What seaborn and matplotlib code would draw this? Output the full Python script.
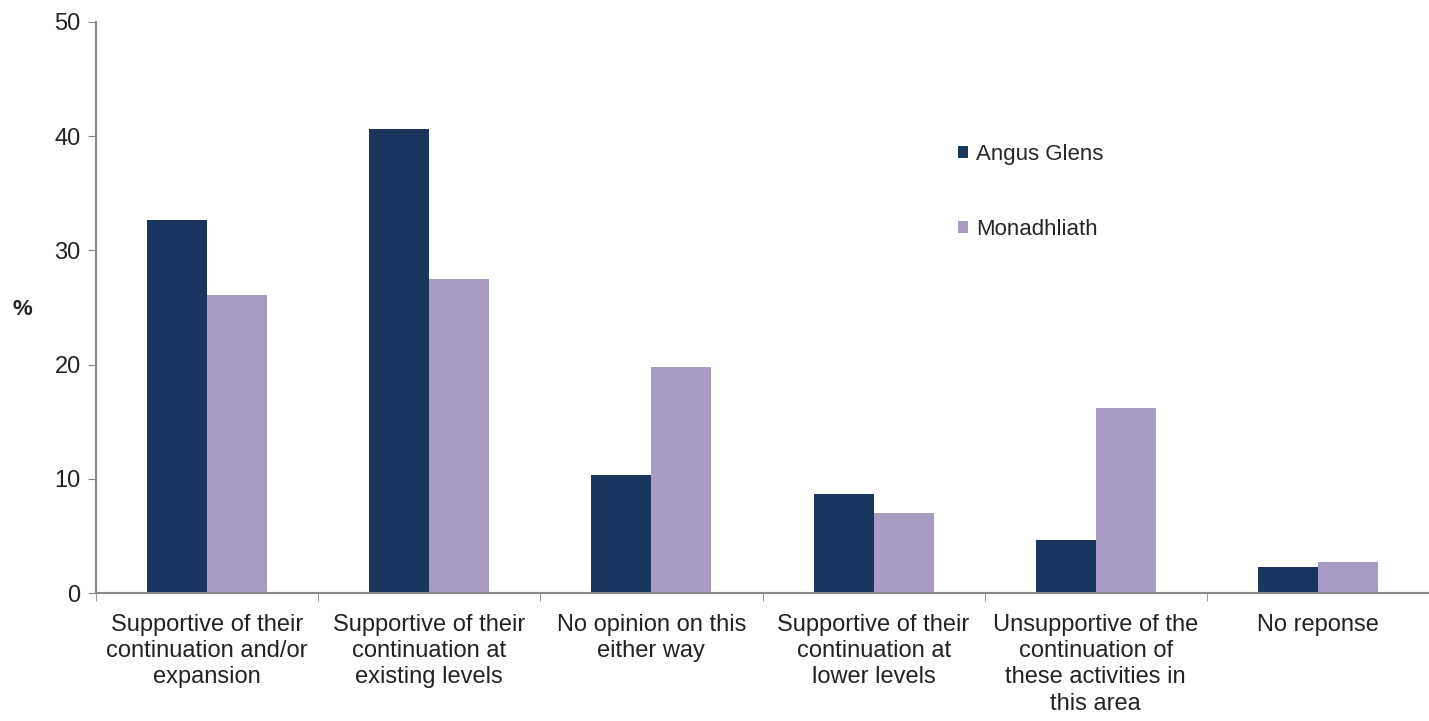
import matplotlib
matplotlib.use("Agg")
import pandas as pd
import matplotlib.pyplot as plt
import seaborn as sns

# Categories and values
categories = [
    "Supportive of their\ncontinuation and/or\nexpansion",
    "Supportive of their\ncontinuation at\nexisting levels",
    "No opinion on this\neither way",
    "Supportive of their\ncontinuation at\nlower levels",
    "Unsupportive of the\ncontinuation of\nthese activities in\nthis area",
    "No reponse",
]
series_names = ["Angus Glens", "Monadhliath"]
angus_glens = [32.7, 40.6, 10.3, 8.7, 4.6, 2.3]
monadhliath = [26.1, 27.5, 19.8, 7.0, 16.2, 2.7]
y_ticks = [0, 10, 20, 30, 40, 50]

colors = ["#1A355E", "#A89BC4"]

df = pd.DataFrame({
    "category": categories * 2,
    "series": [series_names[0]] * len(categories) + [series_names[1]] * len(categories),
    "value": angus_glens + monadhliath,
})

sns.set_style("white")
plt.rcParams["font.family"] = ["Liberation Sans", "DejaVu Sans"]

fig = plt.figure(figsize=(14.29, 7.21), dpi=100)
ax = fig.add_axes([96 / 1429, 1 - 593 / 721, 1 - 96 / 1429, (593 - 22) / 721])

sns.barplot(data=df, x="category", y="value", hue="series", palette=colors,
            width=0.54, saturation=1, ax=ax, edgecolor="none", legend=True)

ax.set_xlim(-0.5, 5.45)
ax.set_ylim(0, 50)
ax.set_yticks(y_ticks)
ax.tick_params(axis="y", labelsize=17, length=6, color="#888888", direction="out",
               left=True, labelcolor="#222222", pad=5)

# category tick marks sit between groups
ax.set_xticks(range(len(categories)))
ax.set_xticklabels(categories, fontsize=17, color="#222222", linespacing=1.25)
ax.tick_params(axis="x", length=0, pad=15)
ax.set_xticks([i - 0.5 for i in range(len(categories) + 1)], minor=True)
ax.tick_params(axis="x", which="minor", length=6, color="#888888", direction="out", bottom=True)

ax.set_xlabel("")
ax.set_ylabel("%", rotation=0, fontsize=16, color="#222222", fontweight="bold",
              ha="center", va="center")
ax.yaxis.set_label_coords(-0.055, 0.496)

for side in ["top", "right"]:
    ax.spines[side].set_visible(False)
for side in ["left", "bottom"]:
    ax.spines[side].set_color("#888888")
    ax.spines[side].set_linewidth(1.5)

handles, labels = ax.get_legend_handles_labels()
ax.legend(handles, labels, loc="upper left", bbox_to_anchor=(0.632, 0.822),
          frameon=False, fontsize=16, handlelength=0.45, handleheight=0.45,
          handletextpad=0.35, labelspacing=2.45)

fig.savefig("out.png", dpi=100)
